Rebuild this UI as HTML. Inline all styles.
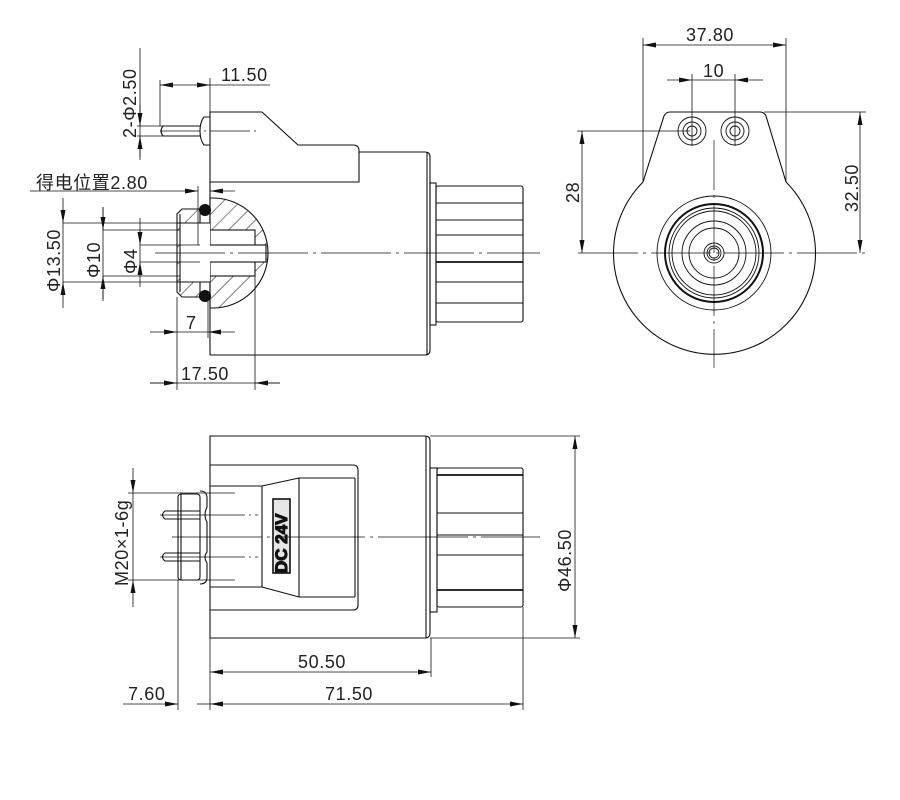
<!DOCTYPE html>
<html><head><meta charset="utf-8"><style>
html,body{margin:0;padding:0;background:#fff}
svg{display:block}
text{font-family:"Liberation Sans","Noto Sans CJK SC",sans-serif;font-size:18px;letter-spacing:0.6px;fill:#222}
</style></head><body>
<svg width="900" height="800" viewBox="0 0 900 800" xmlns="http://www.w3.org/2000/svg">
<defs>
<marker id="a" markerUnits="userSpaceOnUse" markerWidth="14" markerHeight="8" refX="13" refY="3" orient="auto-start-reverse"><path d="M0,0.5 L13,3 L0,5.5 z" fill="#111"/></marker>
<pattern id="h" patternUnits="userSpaceOnUse" width="12" height="12" patternTransform="rotate(45)"><line x1="0" y1="0" x2="0" y2="12" stroke="#111" stroke-width="1"/></pattern>
</defs>
<g fill="none" stroke="#111" stroke-width="1.1">
<!-- ===== TOP-LEFT VIEW ===== -->
<path d="M210,355 L210,112 L262,112 L298,145 L353,145 Q359,145 359,151 L359,182 L210,182"/>
<path d="M359,152 L425,152 Q430,152 430,157 L430,350 Q430,355 425,355 L210,355"/>
<line x1="427" y1="152" x2="427" y2="355"/>
<rect x="430" y="183" width="6" height="142"/>
<rect x="436" y="186" width="87" height="136" rx="2"/>
<g stroke-width="0.9"><line x1="436" y1="203" x2="523" y2="203"/><line x1="436" y1="220" x2="523" y2="220"/><line x1="436" y1="235" x2="523" y2="235"/><line x1="436" y1="282" x2="523" y2="282"/><line x1="436" y1="303" x2="523" y2="303"/></g>
<line x1="436" y1="262" x2="523" y2="262" stroke-width="1.8"/>
<path d="M200,126 L163,126 Q159,131 163,136 L200,136"/>
<path d="M210,117 L204,117 Q200,122 200,131 Q200,140 204,145 L210,145"/>
<line x1="160" y1="131" x2="258" y2="131" stroke-width="0.7" stroke-dasharray="40 4 2 4"/>
<path d="M210,198 L213,198 A55,55 0 0 1 213,308 L210,308 Z" fill="url(#h)"/>
<rect x="210" y="230" width="45" height="46" fill="#fff"/>
<rect x="198" y="245" width="68" height="17" fill="#fff"/>
<path d="M182,209 L200,209 L200,297 L182,297 L177,292 L177,214 Z" fill="url(#h)"/>
<rect x="180" y="223" width="30" height="59" fill="#fff" stroke="none"/>
<path d="M177,223 L210,223 M177,282 L210,282 M180,214 L180,292"/>
<circle cx="205" cy="210" r="5.5" fill="#111"/>
<circle cx="205" cy="296" r="5.5" fill="#111"/>
<line x1="155" y1="253" x2="540" y2="253" stroke-width="0.7" stroke-dasharray="70 5 3 5"/>
<g stroke-width="0.8">
<line x1="160" y1="80" x2="160" y2="126"/><line x1="210" y1="78" x2="210" y2="112"/>
<line x1="160" y1="85" x2="210" y2="85" marker-start="url(#a)" marker-end="url(#a)"/><line x1="210" y1="85" x2="270" y2="85"/>
<line x1="140" y1="48" x2="140" y2="160"/>
<line x1="137" y1="126" x2="200" y2="126"/><line x1="137" y1="136" x2="200" y2="136"/>
<line x1="140" y1="105" x2="140" y2="126" marker-end="url(#a)"/><line x1="140" y1="157" x2="140" y2="136" marker-end="url(#a)"/>
<line x1="30" y1="191" x2="198" y2="191" marker-end="url(#a)"/><line x1="235" y1="191" x2="210" y2="191" marker-end="url(#a)"/>
<line x1="198" y1="186" x2="198" y2="245"/><line x1="210" y1="182" x2="210" y2="198"/>
<line x1="63" y1="223" x2="180" y2="223"/><line x1="63" y1="282" x2="180" y2="282"/>
<line x1="63" y1="198" x2="63" y2="223" marker-end="url(#a)"/><line x1="63" y1="308" x2="63" y2="282" marker-end="url(#a)"/>
<line x1="63" y1="223" x2="63" y2="282"/>
<line x1="103" y1="230" x2="180" y2="230"/><line x1="103" y1="276" x2="180" y2="276"/>
<line x1="103" y1="207" x2="103" y2="301"/>
<line x1="103" y1="207" x2="103" y2="230" marker-end="url(#a)"/><line x1="103" y1="299" x2="103" y2="276" marker-end="url(#a)"/>
<line x1="140" y1="245" x2="200" y2="245"/><line x1="140" y1="262" x2="200" y2="262"/>
<line x1="140" y1="218" x2="140" y2="245" marker-end="url(#a)"/><line x1="140" y1="287" x2="140" y2="262" marker-end="url(#a)"/>
<line x1="140" y1="245" x2="140" y2="262"/>
<line x1="177" y1="297" x2="177" y2="390"/><line x1="208" y1="300" x2="208" y2="338"/>
<line x1="150" y1="332" x2="177" y2="332" marker-end="url(#a)"/><line x1="235" y1="332" x2="208" y2="332" marker-end="url(#a)"/><line x1="177" y1="332" x2="208" y2="332"/>
<line x1="255" y1="270" x2="255" y2="390"/>
<line x1="150" y1="383" x2="280" y2="383"/>
<line x1="150" y1="383" x2="177" y2="383" marker-end="url(#a)"/><line x1="280" y1="383" x2="255" y2="383" marker-end="url(#a)"/>
</g>

<!-- ===== RIGHT VIEW ===== -->
<path d="M643,182 L664,116 Q666,112 670,112 L760,112 Q764,112 766,116 L786,182 A101,101 0 1 1 643,182 Z"/>
<g stroke-width="0.9">
<circle cx="692" cy="131" r="14"/><circle cx="692" cy="131" r="9"/><circle cx="692" cy="131" r="5"/>
<circle cx="735" cy="131" r="14"/><circle cx="735" cy="131" r="9"/><circle cx="735" cy="131" r="5"/>
<circle cx="714" cy="253" r="57"/><circle cx="714" cy="253" r="45"/><circle cx="714" cy="253" r="42"/>
<circle cx="714" cy="253" r="32"/><circle cx="714" cy="253" r="25"/><circle cx="714" cy="253" r="10"/><circle cx="714" cy="253" r="7"/><circle cx="714" cy="253" r="5"/>
</g>
<circle cx="714" cy="253" r="49" stroke-width="2"/>
<g stroke-width="0.7">
<line x1="578" y1="253" x2="865" y2="253" stroke-dasharray="60 5 3 5"/>
<line x1="714" y1="140" x2="714" y2="368" stroke-dasharray="50 5 3 5"/>
</g>
<g stroke-width="0.8">
<line x1="643" y1="38" x2="643" y2="182"/><line x1="786" y1="38" x2="786" y2="182"/>
<line x1="643" y1="45" x2="786" y2="45" marker-start="url(#a)" marker-end="url(#a)"/>
<line x1="692" y1="74" x2="692" y2="146"/><line x1="735" y1="74" x2="735" y2="146"/>
<line x1="667" y1="80" x2="692" y2="80" marker-end="url(#a)"/><line x1="763" y1="80" x2="735" y2="80" marker-end="url(#a)"/><line x1="692" y1="80" x2="735" y2="80"/>
<line x1="577" y1="131" x2="690" y2="131"/>
<line x1="582" y1="131" x2="582" y2="253" marker-start="url(#a)" marker-end="url(#a)"/>
<line x1="764" y1="112" x2="866" y2="112"/>
<line x1="860" y1="112" x2="860" y2="253" marker-start="url(#a)" marker-end="url(#a)"/>
</g>

<!-- ===== BOTTOM VIEW ===== -->
<path d="M210,436 L425,436 Q430,436 430,441 L430,633 Q430,638 425,638 L210,638 Z"/>
<line x1="426" y1="436" x2="426" y2="638"/>
<path d="M210,465 L353,465 Q358,465 358,470 L358,605 Q358,610 353,610 L210,610"/>
<path d="M355,478 L355,597"/>
<path d="M262,486 L210,486 M210,587 L262,587 M262,486 L262,587 M262,486 L299,478 L355,478 M262,587 L299,597 L355,597 M299,478 L299,597"/>
<rect x="273" y="499" width="17" height="74" fill="#e6e6e6" stroke-width="1.6"/>
<text transform="translate(287,573) rotate(-90)" style="font-weight:bold;font-size:17px;letter-spacing:0;fill:#111">DC 24V</text>
<rect x="178" y="494" width="22" height="86" rx="3"/>
<path d="M200,491 Q207,491 207,498 L207,507 Q203,515 207,522 L207,552 Q203,557 207,563 L207,577 Q207,584 200,584"/>
<path d="M181,494 L181,580"/>
<path d="M200,511 L165,511 Q160,515 165,519 L200,519"/>
<path d="M200,553 L165,553 Q160,557 165,561 L200,561"/>
<rect x="430" y="468" width="7" height="144"/>
<rect x="437" y="468" width="86" height="139" rx="2"/>
<g stroke-width="0.9"><line x1="437" y1="513" x2="523" y2="513"/><line x1="437" y1="535" x2="523" y2="535"/><line x1="437" y1="555" x2="523" y2="555"/></g>
<line x1="437" y1="475" x2="523" y2="475" stroke-width="1.8"/><line x1="437" y1="590" x2="523" y2="590" stroke-width="1.8"/>
<g stroke-width="0.7">
<line x1="172" y1="537" x2="540" y2="537" stroke-dasharray="90 5 3 5"/>
<line x1="160" y1="515" x2="258" y2="515" stroke-dasharray="85 4 2 4"/>
<line x1="160" y1="557" x2="258" y2="557" stroke-dasharray="85 4 2 4"/>
</g>
<g stroke-width="0.8">
<line x1="430" y1="436" x2="580" y2="436"/><line x1="430" y1="638" x2="580" y2="638"/>
<line x1="575" y1="436" x2="575" y2="638" marker-start="url(#a)" marker-end="url(#a)"/>
<line x1="128" y1="493" x2="235" y2="493"/><line x1="128" y1="580" x2="235" y2="580"/>
<line x1="133" y1="468" x2="133" y2="493" marker-end="url(#a)"/><line x1="133" y1="607" x2="133" y2="580" marker-end="url(#a)"/><line x1="133" y1="493" x2="133" y2="580"/>
<line x1="210" y1="638" x2="210" y2="710"/><line x1="431" y1="638" x2="431" y2="677"/>
<line x1="523" y1="607" x2="523" y2="710"/><line x1="178" y1="580" x2="178" y2="710"/>
<line x1="210" y1="672" x2="431" y2="672" marker-start="url(#a)" marker-end="url(#a)"/>
<line x1="210" y1="704" x2="523" y2="704" marker-start="url(#a)" marker-end="url(#a)"/>
<line x1="123" y1="704" x2="178" y2="704" marker-end="url(#a)"/>
<line x1="197" y1="704" x2="210" y2="704"/>
</g>
</g>

<text x="221" y="81">11.50</text>
<text transform="translate(136,138) rotate(-90)">2-Φ2.50</text>
<text x="36" y="189">得电位置2.80</text>
<text transform="translate(60,292) rotate(-90)">Φ13.50</text>
<text transform="translate(100,278) rotate(-90)">Φ10</text>
<text transform="translate(137,274) rotate(-90)">Φ4</text>
<text x="186" y="329">7</text>
<text x="181" y="380">17.50</text>
<text x="686" y="41">37.80</text>
<text x="703" y="77">10</text>
<text transform="translate(579,203) rotate(-90)">28</text>
<text transform="translate(858,212) rotate(-90)">32.50</text>
<text transform="translate(128,586) rotate(-90)">M20×1-6g</text>
<text transform="translate(571,592) rotate(-90)">Φ46.50</text>
<text x="298" y="668">50.50</text>
<text x="325" y="700">71.50</text>
<text x="128" y="700">7.60</text>
</svg>
</body></html>
